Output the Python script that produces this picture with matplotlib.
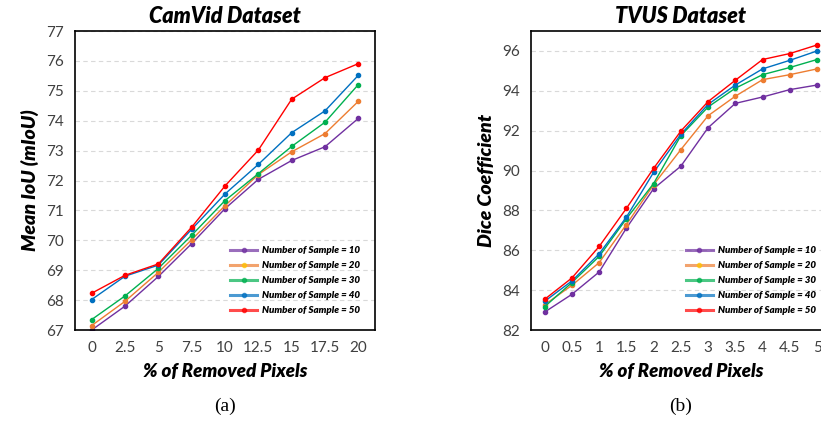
import matplotlib
matplotlib.use("Agg")
import matplotlib.pyplot as plt
from matplotlib.lines import Line2D

plt.rcParams['font.family'] = ['Lato', 'DejaVu Sans']

# Legend entries / colours shared by both panels
sample_labels = ["Number of Sample = 10", "Number of Sample = 20", "Number of Sample = 30",
                 "Number of Sample = 40", "Number of Sample = 50"]
line_colors = ["#7030A0", "#ED7D31", "#00B050", "#0070C0", "#FF0000"]
legend_marker_colors = ["#7030A0", "#FFC000", "#00B050", "#0070C0", "#FF0000"]

# (a) CamVid
camvid_x = ["0", "2.5", "5", "7.5", "10", "12.5", "15", "17.5", "20"]
camvid_s10 = [67.00, 67.80, 68.79, 69.89, 71.06, 72.04, 72.67, 73.13, 74.08]
camvid_s20 = [67.15, 67.96, 68.93, 70.02, 71.16, 72.20, 72.96, 73.57, 74.65]
camvid_s30 = [67.35, 68.14, 69.06, 70.17, 71.33, 72.23, 73.14, 73.95, 75.21]
camvid_s40 = [68.02, 68.80, 69.17, 70.37, 71.55, 72.54, 73.60, 74.33, 75.52]
camvid_s50 = [68.23, 68.83, 69.21, 70.44, 71.82, 73.02, 74.72, 75.44, 75.91]
camvid_yticks = [67, 68, 69, 70, 71, 72, 73, 74, 75, 76, 77]

# (b) TVUS
tvus_x = ["0", "0.5", "1", "1.5", "2", "2.5", "3", "3.5", "4", "4.5", "5"]
tvus_s10 = [82.90, 83.79, 84.91, 87.11, 89.09, 90.22, 92.15, 93.37, 93.69, 94.06, 94.29]
tvus_s20 = [83.27, 84.24, 85.38, 87.29, 89.29, 91.05, 92.75, 93.73, 94.56, 94.81, 95.10]
tvus_s30 = [83.17, 84.38, 85.69, 87.58, 89.35, 91.75, 93.19, 94.13, 94.81, 95.17, 95.57]
tvus_s40 = [83.44, 84.46, 85.82, 87.66, 89.91, 91.82, 93.32, 94.29, 95.10, 95.53, 96.00]
tvus_s50 = [83.54, 84.61, 86.19, 88.10, 90.11, 91.98, 93.46, 94.53, 95.57, 95.87, 96.30]
tvus_yticks = [82, 84, 86, 88, 90, 92, 94, 96]


def draw_panel(ax, xlabels, series, yticks, ylim, title, ylabel, tag):
    xs = list(range(len(xlabels)))
    for vals, col in zip(series, line_colors):
        ax.plot(xs, vals, color=col, linewidth=1.0, marker='o', markersize=3.0)
    ax.set_xlim(-0.5, len(xlabels) - 0.5)
    ax.set_ylim(*ylim)
    ax.set_xticks(xs)
    ax.set_xticklabels(xlabels)
    ax.set_yticks(yticks)
    ax.tick_params(length=0, labelsize=11, labelcolor="#404040", pad=8)
    ax.yaxis.grid(True, linestyle=(0, (4, 3)), color="#d9d9d9", linewidth=0.8)
    ax.set_axisbelow(True)
    for sp in ax.spines.values():
        sp.set_color("black")
        sp.set_linewidth(1.2)
    ax.set_title(title, fontsize=15.5, fontweight='heavy', style='italic', pad=6)
    ax.set_ylabel(ylabel, fontsize=14, fontweight='heavy', style='italic', labelpad=5)
    ax.set_xlabel("% of Removed Pixels", fontsize=13.5, fontweight='heavy', style='italic', labelpad=6)
    # sub-figure tag below the axis label
    ax.text(0.5, -0.255, tag, transform=ax.transAxes, ha='center', va='center',
            fontsize=14, family='Liberation Serif')
    # legend with Excel-like thick, pale line handles
    handles = [Line2D([], [], color=c, linewidth=2.2, alpha=0.7, marker='o', markersize=3.0,
                      markerfacecolor=m, markeredgecolor=m)
               for c, m in zip(line_colors, legend_marker_colors)]
    ax.legend(handles, sample_labels, loc='lower right', bbox_to_anchor=(0.98, 0.02), frameon=False,
              prop={'size': 7, 'weight': 'heavy', 'style': 'italic'},
              handlelength=2.8, labelspacing=0.62, handletextpad=0.5)


fig = plt.figure(figsize=(8.21, 4.22), dpi=100)
ax1 = fig.add_axes([0.0914, 0.218, 0.3654, 0.7085])
ax2 = fig.add_axes([0.6468, 0.218, 0.3650, 0.7085])

draw_panel(ax1, camvid_x, [camvid_s10, camvid_s20, camvid_s30, camvid_s40, camvid_s50],
           camvid_yticks, (67, 77), "CamVid Dataset", "Mean IoU (mIoU)", "(a)")
draw_panel(ax2, tvus_x, [tvus_s10, tvus_s20, tvus_s30, tvus_s40, tvus_s50],
           tvus_yticks, (82, 97), "TVUS Dataset", "Dice Coefficient", "(b)")

fig.savefig("out.png", dpi=100)
